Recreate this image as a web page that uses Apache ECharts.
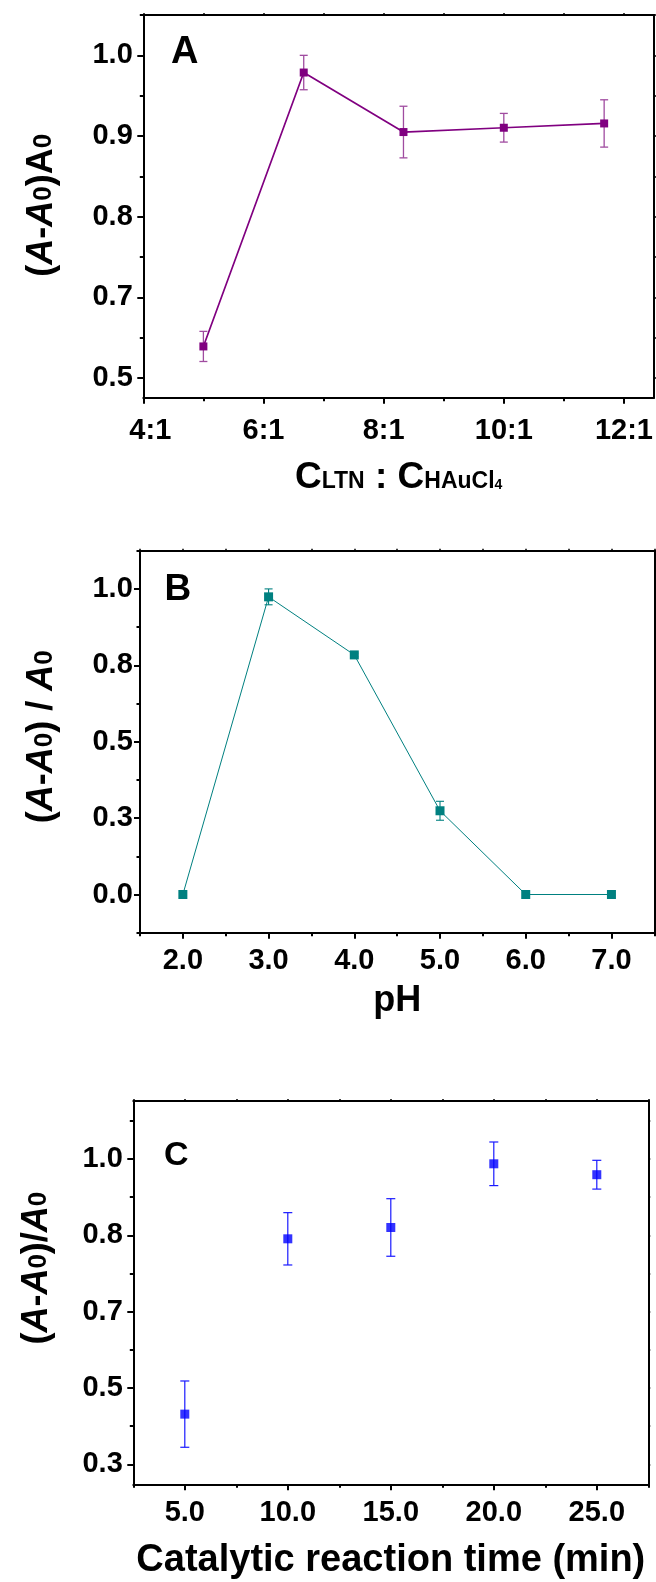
<!DOCTYPE html>
<html>
<head>
<meta charset="utf-8">
<title>Optimisation of LTN : HAuCl4 ratio, pH and catalytic reaction time</title>
<script src="https://cdn.jsdelivr.net/npm/echarts@6/dist/echarts.min.js"></script>
<style>
  html, body { margin: 0; padding: 0; background: #fff; }
  #chart { width: 656px; height: 1582px; }
</style>
</head>
<body>
<div id="chart"></div>
<script>
// ---- Panel A: molar ratio C(LTN) : C(HAuCl4) ----
const ratioX = [5, 6.67, 8.33, 10, 11.67];
const ratioY = [0.594, 0.976, 0.893, 0.899, 0.905];
const ratioErr = [0.021, 0.024, 0.036, 0.020, 0.033];
const ratioXTicks = [4, 6, 8, 10, 12];
const ratioXLabels = ['4:1', '6:1', '8:1', '10:1', '12:1'];
const ratioYTicks = [0.55, 0.6625, 0.775, 0.8875, 1.0];
const ratioYLabels = ['0.5', '0.7', '0.8', '0.9', '1.0'];

// ---- Panel B: pH ----
const phX = [2, 3, 4, 5, 6, 7];
const phY = [0, 0.974, 0.784, 0.274, 0, 0];
const phErr = [0, 0.026, 0.006, 0.031, 0, 0];
const phXTicks = [2, 3, 4, 5, 6, 7];
const phXLabels = ['2.0', '3.0', '4.0', '5.0', '6.0', '7.0'];
const phYTicks = [0, 0.25, 0.5, 0.75, 1.0];
const phYLabels = ['0.0', '0.3', '0.5', '0.8', '1.0'];

// ---- Panel C: catalytic reaction time ----
const timeX = [5, 10, 15, 20, 25];
const timeY = [0.415, 0.817, 0.843, 0.989, 0.964];
const timeErr = [0.076, 0.060, 0.066, 0.050, 0.033];
const timeXTicks = [5, 10, 15, 20, 25];
const timeXLabels = ['5.0', '10.0', '15.0', '20.0', '25.0'];
const timeYTicks = [0.3, 0.475, 0.65, 0.825, 1.0];
const timeYLabels = ['0.3', '0.5', '0.7', '0.8', '1.0'];

const panelLetters = ['A', 'B', 'C'];

// ---------------------------------------------------------------
const FONT = '"Liberation Sans", Arial, Helvetica, sans-serif';
const BLACK = '#000';

const grids = [
  { left: 143.3, top: 15, width: 515.3, height: 382.7 },
  { left: 140, top: 550.7, width: 514.3, height: 382 },
  { left: 133.3, top: 1101, width: 515, height: 383.3 }
];

// half-step ticks between (and around) the labelled ticks
function minorTicks(major, min, max) {
  const step = major[1] - major[0];
  const out = [];
  for (let k = -1; k <= major.length; k++) {
    let v = major[0] + (k + 0.5) * step;
    if (v < min && min - v < 1e-6) v = min;
    if (v > max && v - max < 1e-6) v = max;
    if (v >= min && v <= max) out.push(v);
  }
  return out;
}

// label text for the tick nearest to v; the first label can be nudged right
function labelFor(ticks, labels, nudgeFirst) {
  return function (v) {
    let best = 0;
    for (let i = 1; i < ticks.length; i++) {
      if (Math.abs(ticks[i] - v) < Math.abs(ticks[best] - v)) best = i;
    }
    if (nudgeFirst && best === 0) return '{f|' + labels[best] + '}';
    return labels[best];
  };
}

const tickFont = { fontFamily: FONT, fontWeight: 'bold', fontSize: 29, color: BLACK };

function axisSet(dim, g, cfg) {
  const near = dim === 'x' ? 'bottom' : 'left';
  const far = dim === 'x' ? 'top' : 'right';
  const minor = minorTicks(cfg.ticks, cfg.min, cfg.max);
  const line = { color: BLACK, width: 2 };
  const base = { type: 'value', gridIndex: g, min: cfg.min, max: cfg.max, splitLine: { show: false } };
  const label = Object.assign({
    customValues: cfg.ticks,
    formatter: labelFor(cfg.ticks, cfg.labels, !!cfg.nudgeFirst),
    margin: cfg.margin
  }, tickFont);
  if (cfg.nudgeFirst) {
    label.rich = { f: Object.assign({ padding: [0, 0, 0, cfg.nudgeFirst] }, tickFont) };
  }
  return [
    Object.assign({}, base, {
      position: near,
      axisLine: { onZero: false, lineStyle: line },
      axisTick: { customValues: cfg.ticks, length: 6, lineStyle: { color: BLACK, width: 2 } },
      axisLabel: label,
      name: cfg.name,
      nameLocation: 'middle',
      nameGap: cfg.nameGap,
      nameTextStyle: cfg.nameStyle
    }),
    Object.assign({}, base, {
      position: near,
      axisLine: { show: false, onZero: false },
      axisTick: { customValues: minor, length: 3.5, lineStyle: { color: BLACK, width: 2 } },
      axisLabel: { show: false }
    }),
    Object.assign({}, base, {
      position: far,
      axisLine: { onZero: false, lineStyle: line },
      axisTick: { customValues: cfg.ticks.concat(minor), length: 2, lineStyle: { color: BLACK, width: 1.5 } },
      axisLabel: { show: false }
    })
  ];
}

function richStyle(size, extra) {
  return Object.assign({ fontFamily: FONT, fontWeight: 'bold', fontSize: size, color: BLACK, verticalAlign: 'bottom' }, extra || {});
}

function yNameStyle(shift) {
  return {
    fontFamily: FONT, fontWeight: 'bold', fontSize: 36, color: BLACK,
    padding: [0, 0, 0, shift],
    rich: {
      n: richStyle(36),
      i: richStyle(36, { fontStyle: 'italic' }),
      s: richStyle(26, { padding: [0, 0, 3, 0] })
    }
  };
}

const xAxes = [].concat(
  axisSet('x', 0, {
    min: 4, max: 12.5, ticks: ratioXTicks, labels: ratioXLabels, margin: 19, nudgeFirst: 14,
    name: '{b|C}{m|LTN}{b| : C}{m|HAuCl}{t|4}', nameGap: 62,
    nameStyle: {
      fontFamily: FONT, fontWeight: 'bold', fontSize: 37, color: BLACK,
      rich: {
        b: richStyle(37),
        m: richStyle(23, { padding: [0, 0, 4, 0] }),
        t: richStyle(14, { padding: [0, 0, 5, 0] })
      }
    }
  }),
  axisSet('x', 1, {
    min: 1.5, max: 7.5, ticks: phXTicks, labels: phXLabels, margin: 14,
    name: 'pH', nameGap: 50,
    nameStyle: { fontFamily: FONT, fontWeight: 'bold', fontSize: 36, color: BLACK }
  }),
  axisSet('x', 2, {
    min: 2.5, max: 27.5, ticks: timeXTicks, labels: timeXLabels, margin: 14.5,
    name: 'Catalytic reaction time (min)', nameGap: 57.5,
    nameStyle: { fontFamily: FONT, fontWeight: 'bold', fontSize: 38, color: BLACK }
  })
);

const yAxes = [].concat(
  axisSet('y', 0, {
    min: 0.5225, max: 1.05625, ticks: ratioYTicks, labels: ratioYLabels, margin: 10.5,
    name: '{n|(}{i|A}{n|-}{i|A}{s|0}{n|)}{n|A}{s|0}', nameGap: 83,
    nameStyle: yNameStyle(2)
  }),
  axisSet('y', 1, {
    min: -0.125, max: 1.125, ticks: phYTicks, labels: phYLabels, margin: 7.2,
    name: '{n|(}{i|A}{n|-}{i|A}{s|0}{n|) / }{i|A}{s|0}', nameGap: 79.5,
    nameStyle: yNameStyle(10)
  }),
  axisSet('y', 2, {
    min: 0.2541, max: 1.133, ticks: timeYTicks, labels: timeYLabels, margin: 10.5,
    name: '{n|(}{i|A}{n|-}{i|A}{s|0}{n|)/}{i|A}{s|0}', nameGap: 78,
    nameStyle: yNameStyle(49)
  })
);

// vertical error bar with short caps, positioned through the axes
function errorBars(color, width, cap) {
  return function (params, api) {
    const x = api.value(0), y = api.value(1), e = api.value(2);
    if (!e) return null;
    const hi = api.coord([x, y + e]);
    const lo = api.coord([x, y - e]);
    const style = { stroke: color, lineWidth: width, fill: null };
    return {
      type: 'group',
      children: [
        { type: 'line', shape: { x1: hi[0], y1: hi[1], x2: lo[0], y2: lo[1] }, style: style },
        { type: 'line', shape: { x1: hi[0] - cap, y1: hi[1], x2: hi[0] + cap, y2: hi[1] }, style: style },
        { type: 'line', shape: { x1: lo[0] - cap, y1: lo[1], x2: lo[0] + cap, y2: lo[1] }, style: style }
      ]
    };
  };
}

function triples(xs, ys, es) { return xs.map((x, i) => [x, ys[i], es[i]]); }
function pairs(xs, ys) { return xs.map((x, i) => [x, ys[i]]); }

const PURPLE = '#800080';
const TEAL = '#008080';
const BLUE = '#0000ff';

const series = [
  {
    type: 'custom', xAxisIndex: 0, yAxisIndex: 0, encode: { x: 0, y: 1 },
    renderItem: errorBars('#a04ca0', 1.3, 4), data: triples(ratioX, ratioY, ratioErr), z: 2
  },
  {
    type: 'line', xAxisIndex: 0, yAxisIndex: 0, data: pairs(ratioX, ratioY),
    symbol: 'rect', symbolSize: 8, showAllSymbol: true,
    itemStyle: { color: PURPLE }, lineStyle: { color: PURPLE, width: 1.7 }, z: 3
  },
  {
    type: 'custom', xAxisIndex: 3, yAxisIndex: 3, encode: { x: 0, y: 1 },
    renderItem: errorBars(TEAL, 1.1, 4), data: triples(phX, phY, phErr), z: 2
  },
  {
    type: 'line', xAxisIndex: 3, yAxisIndex: 3, data: pairs(phX, phY),
    symbol: 'rect', symbolSize: 9, showAllSymbol: true,
    itemStyle: { color: TEAL }, lineStyle: { color: TEAL, width: 1 }, z: 3
  },
  {
    type: 'custom', xAxisIndex: 6, yAxisIndex: 6, encode: { x: 0, y: 1 },
    renderItem: errorBars('#1a1aff', 1.2, 4.5), data: triples(timeX, timeY, timeErr), z: 2
  },
  {
    type: 'scatter', xAxisIndex: 6, yAxisIndex: 6, data: pairs(timeX, timeY),
    symbol: 'rect', symbolSize: 9, itemStyle: { color: BLUE }, z: 3
  }
];

// panel letters inside each frame
const letterSpots = [
  { x: 171, y: 53, size: 38 },
  { x: 164.5, y: 589.5, size: 37 },
  { x: 164, y: 1155.5, size: 34 }
];
const graphic = panelLetters.map((t, i) => ({
  type: 'text',
  x: letterSpots[i].x,
  y: letterSpots[i].y,
  style: {
    text: t,
    font: 'bold ' + letterSpots[i].size + 'px ' + FONT,
    fill: BLACK,
    align: 'left',
    verticalAlign: 'middle'
  }
}));

const chart = echarts.init(document.getElementById('chart'), null, { renderer: 'canvas', width: 656, height: 1582 });
chart.setOption({
  animation: false,
  backgroundColor: '#fff',
  grid: grids,
  xAxis: xAxes,
  yAxis: yAxes,
  series: series,
  graphic: graphic
});
</script>
</body>
</html>
